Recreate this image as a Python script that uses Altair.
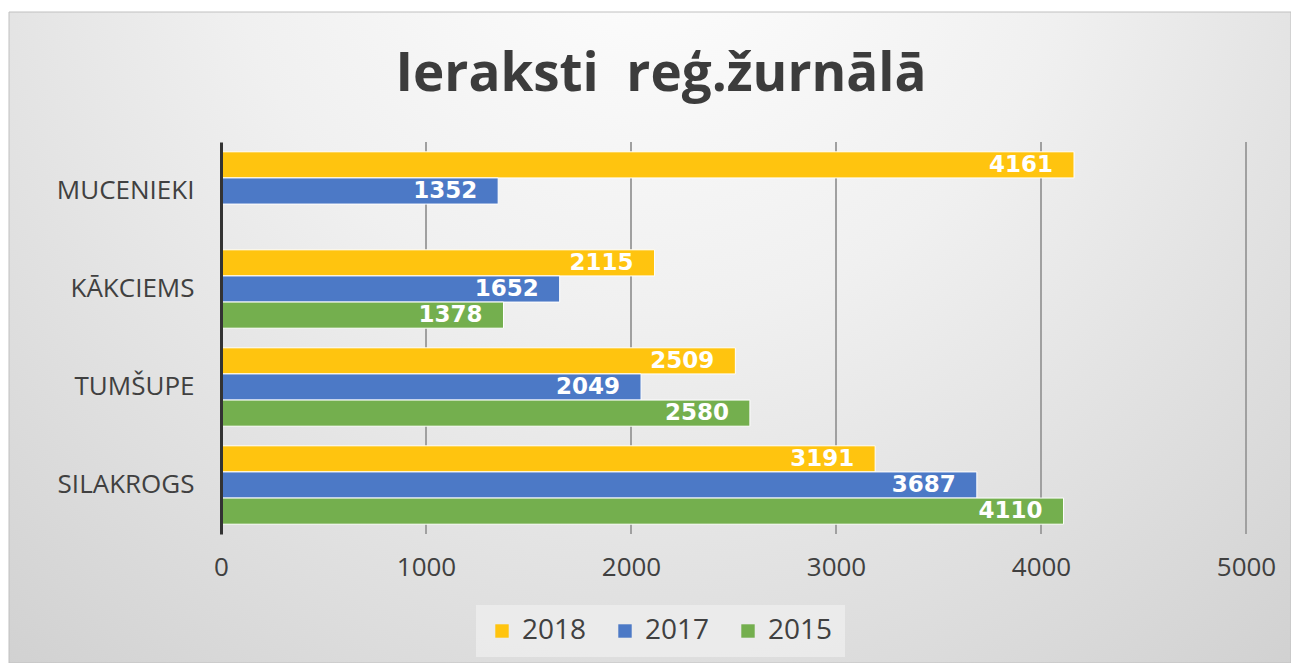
import altair as alt
import pandas as pd

# ---------------- data ----------------
categories = ["MUCENIEKI", "KĀKCIEMS", "TUMŠUPE", "SILAKROGS"]
years = ["2018", "2017", "2015"]
values_2018 = [4161, 2115, 2509, 3191]
values_2017 = [1352, 1652, 2049, 3687]
values_2015 = [None, 1378, 2580, 4110]
colors = ["#FFC40F", "#4C79C6", "#74AF4E"]
x_ticks = [0, 1000, 2000, 3000, 4000, 5000]
title_text = "Ieraksti \u00a0reģ.žurnālā"

rows = []
for yr, vals in zip(years, [values_2018, values_2017, values_2015]):
    for c, v in zip(categories, vals):
        if v is not None:
            rows.append({"category": c, "year": yr, "value": v})
df = pd.DataFrame(rows)
grid_df = pd.DataFrame({"tick": x_ticks[1:]})
one = pd.DataFrame({"t": [title_text]})

W, H = 1025, 392
PL, PT, PR, PB = 213, 134, 45, 129

FONT = "Open Sans"
TXT = "#404040"

x_scale = alt.Scale(domain=[0, 5000], nice=False)

y_enc = alt.Y(
    "category:N", sort=categories,
    scale=alt.Scale(paddingInner=0.2, paddingOuter=0.1),
    axis=alt.Axis(title=None, domainColor="#333333", domainWidth=3, ticks=False,
                  labelFont=FONT, labelFontSize=26, labelColor=TXT, labelPadding=27,
                  grid=False, zindex=1),
)
yoff = alt.YOffset("year:N", sort=years, scale=alt.Scale(domain=years, paddingInner=0, paddingOuter=0))
x_enc = alt.X(
    "value:Q", scale=x_scale,
    axis=alt.Axis(values=x_ticks, format="d", title=None, domain=False, ticks=False, grid=False,
                  labelFont=FONT, labelFontSize=26, labelColor=TXT, labelPadding=20,
                  labelFlush=False, labelOverlap=False, zindex=1),
)

bg = alt.Chart(one).mark_rect(
    fill=alt.Gradient(
        gradient="radial",
        stops=[alt.GradientStop(color="#ffffff", offset=0),
               alt.GradientStop(color="#f0f0f0", offset=0.35),
               alt.GradientStop(color="#c6c6c6", offset=1)],
        x1=0.5, y1=0.15, r1=0, x2=0.5, y2=0.15, r2=0.95,
    ),
    stroke="#c0c0c0", strokeWidth=1,
).encode(
    x=alt.value(-212), x2=alt.value(W + PR),
    y=alt.value(-130), y2=alt.value(H + PB),
)

grid = alt.Chart(grid_df).mark_rule(color="#a0a0a0", strokeWidth=2).encode(
    x=alt.X("tick:Q", scale=x_scale),
    y=alt.value(0), y2=alt.value(H),
)

bars = alt.Chart(df).mark_bar(stroke="white", strokeWidth=1).encode(
    y=y_enc, yOffset=yoff, x=x_enc,
    color=alt.Color(
        "year:N", sort=years,
        scale=alt.Scale(domain=years, range=colors),
        legend=alt.Legend(
            title=None, orient="none", legendX=255, legendY=463, direction="horizontal",
            symbolType="square", symbolSize=180, symbolStrokeWidth=0,
            labelFont=FONT, labelFontSize=28, labelColor=TXT, labelOffset=6,
            columnPadding=24, padding=12, fillColor="rgba(238,238,238,0.8)",
        ),
    ),
)

labels = alt.Chart(df).mark_text(
    align="right", baseline="middle", dx=-21, font="DejaVu Sans", fontWeight="bold",
    fontSize=23, color="white",
).encode(
    y=alt.Y("category:N", sort=categories), yOffset=alt.YOffset("year:N", sort=years),
    x=alt.X("value:Q", scale=x_scale), text=alt.Text("value:Q"),
)

title = alt.Chart(one).mark_text(
    align="center", baseline="middle", font=FONT, fontWeight="bold", fontSize=53, color="#3c3c3c",
).encode(x=alt.value(440), y=alt.value(-67), text="t:N")

chart = alt.layer(bg, grid, bars, labels, title).properties(
    width=W, height=H,
    autosize=alt.AutoSizeParams(type="none"),
    padding={"left": PL, "top": PT, "right": PR, "bottom": PB},
).configure_view(stroke=None).configure(background="white")

chart.save("out.html", embed_options={"renderer": "svg", "actions": False})
